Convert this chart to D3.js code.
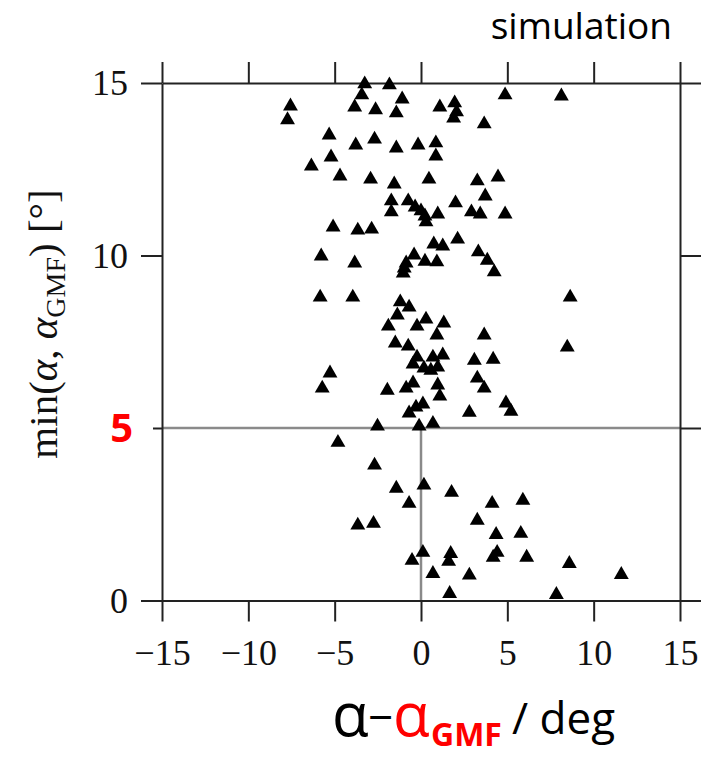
<!DOCTYPE html>
<html>
<head>
<meta charset="utf-8">
<script src="https://cdn.jsdelivr.net/npm/d3@7"></script>
<style>
  html, body { margin: 0; padding: 0; background: #fff; }
  svg { display: block; }
</style>
</head>
<body>
<svg id="chart" width="713" height="757"></svg>
<script>
// ---- data ----
const xValues = [
  -3.26, -1.83, -3.43, -1.09, -7.56, -7.73, -3.84, -2.63, -1.43, 1.09,
  1.95, 2.06, 1.89, 4.87, 8.13, 3.66, -5.32, -3.78, -2.69, -1.43,
  -0.17, 0.86, 0.86, -6.35, -5.21, -4.69, -2.92, -1.55, 0.46, 3.26,
  4.46, 3.72, -1.72, -1.72, -0.74, -0.34, 0.0, 0.23, 0.29, 0.97,
  2.0, 2.92, 3.43, 4.87, -5.09, -3.66, -2.86, 2.12, 0.74, 1.26,
  3.32, 3.84, 4.24, -5.78, -3.84, -0.40, 0.23, 0.92, -0.86, -0.97,
  -1.03, -5.84, -3.95, 8.64, 8.47, -1.20, -0.69, -1.37, -1.89, -0.23,
  0.29, 1.32, 0.92, 3.66, -1.49, -0.74, -0.23, -0.46, 0.17, 0.69,
  1.26, 0.97, 0.57, 3.09, 4.18, 3.26, 3.66, -5.27, -5.72, -1.95,
  -0.86, -0.46, 0.97, 1.09, -0.29, 0.11, -0.69, 2.80, 4.92, 5.21,
  -2.52, -0.11, 0.69, -4.81, -2.69, -1.43, 0.17, 1.77, -0.69, 4.12,
  5.90, 3.26, -3.66, -2.75, 4.35, 5.78, 0.11, -0.52, 1.72, 1.60,
  4.41, 4.18, 6.12, 0.69, 2.80, 8.59, 11.6, 1.66, 7.84
];
const yValues = [
  14.97, 14.94, 14.65, 14.53, 14.33, 13.93, 14.30, 14.22, 14.13, 14.30,
  14.42, 14.16, 13.98, 14.65, 14.62, 13.81, 13.49, 13.20, 13.37, 13.11,
  13.20, 13.26, 12.88, 12.59, 12.85, 12.30, 12.21, 12.07, 12.21, 12.16,
  12.27, 11.72, 11.58, 11.26, 11.58, 11.40, 11.29, 11.14, 10.97, 11.20,
  11.52, 11.26, 11.20, 11.20, 10.82, 10.73, 10.76, 10.47, 10.33, 10.27,
  10.10, 9.86, 9.52, 9.98, 9.78, 10.01, 9.83, 9.81, 9.78, 9.63,
  9.49, 8.79, 8.79, 8.79, 7.34, 8.65, 8.50, 8.27, 7.95, 7.95,
  8.15, 8.04, 7.69, 7.69, 7.46, 7.37, 7.05, 6.85, 6.73, 7.05,
  7.11, 6.76, 6.67, 6.96, 6.99, 6.44, 6.15, 6.59, 6.15, 6.09,
  6.15, 6.30, 6.24, 5.92, 5.60, 5.69, 5.43, 5.45, 5.72, 5.48,
  5.05, 5.05, 5.13, 4.58, 3.92, 3.25, 3.34, 3.13, 2.81, 2.81,
  2.90, 2.32, 2.18, 2.23, 1.91, 1.94, 1.39, 1.16, 1.36, 1.13,
  1.39, 1.25, 1.25, 0.78, 0.73, 1.07, 0.75, 0.20, 0.17
];
const xTicks = [-15, -10, -5, 0, 5, 10, 15];
const yTicks = [0, 5, 10, 15];
const yTickLabels = ["0", "", "10", "15"];   // the 5 is drawn separately in red
const thresholdY = 5;
const thresholdX = 0;
const titleText = "simulation";

// ---- layout ----
const svg = d3.select("#chart");
const mLeft = 162, mRight = 680, mTop = 83, mBottom = 600.5;
const x = d3.scaleLinear().domain([-15, 15]).range([mLeft, mRight]);
const y = d3.scaleLinear().domain([0, 15]).range([mBottom, mTop]);

const serif = "'Liberation Serif', 'DejaVu Serif', serif";
const sans = "'Open Sans', 'Noto Sans', sans-serif";
const frameColor = "#222";

// reference lines (gray)
svg.append("line")
  .attr("x1", x(-15)).attr("x2", x(15))
  .attr("y1", y(thresholdY)).attr("y2", y(thresholdY))
  .attr("stroke", "#8a8a8a").attr("stroke-width", 2.5);
svg.append("line")
  .attr("x1", x(thresholdX)).attr("x2", x(thresholdX))
  .attr("y1", y(thresholdY)).attr("y2", y(0))
  .attr("stroke", "#8a8a8a").attr("stroke-width", 2.5);

// axes
function styleAxis(g) {
  g.selectAll(".domain").attr("stroke", frameColor).attr("stroke-width", 2);
  g.selectAll(".tick line").attr("stroke", frameColor).attr("stroke-width", 2);
  g.selectAll(".tick text").attr("fill", "#111")
    .style("font-family", serif).style("font-size", "36px");
}
const gBottom = svg.append("g").attr("transform", `translate(0,${mBottom})`)
  .call(d3.axisBottom(x).tickValues(xTicks).tickSize(21).tickSizeOuter(0).tickPadding(18)
    .tickFormat(d => d < 0 ? "\u2212" + Math.abs(d) : String(d)));
styleAxis(gBottom);
gBottom.selectAll(".tick text").attr("dy", "0.71em");

const gTop = svg.append("g").attr("transform", `translate(0,${mTop})`)
  .call(d3.axisTop(x).tickValues(xTicks).tickSize(21).tickSizeOuter(0).tickFormat(""));
styleAxis(gTop);

const gLeft = svg.append("g").attr("transform", `translate(${mLeft},0)`)
  .call(d3.axisLeft(y).tickValues(yTicks).tickSize(21).tickSizeOuter(0).tickPadding(13)
    .tickFormat((d, i) => yTickLabels[i]));
styleAxis(gLeft);
gLeft.selectAll(".tick").filter(d => d === thresholdY).select("line").attr("x2", -9);

const gRight = svg.append("g").attr("transform", `translate(${mRight},0)`)
  .call(d3.axisRight(y).tickValues(yTicks).tickSize(21).tickSizeOuter(0).tickFormat(""));
styleAxis(gRight);

// red "5" label
svg.append("text")
  .attr("x", 133).attr("y", y(thresholdY))
  .attr("dy", "0.35em").attr("text-anchor", "end")
  .attr("fill", "#ff0000")
  .style("font-family", sans).style("font-weight", "bold").style("font-size", "40px")
  .text("5");

// points
const pts = xValues.map((v, i) => ({ x: v, y: yValues[i] }));
const tri = d3.symbol().type(d3.symbolTriangle).size(96);
svg.append("g").selectAll("path").data(pts).join("path")
  .attr("d", tri)
  .attr("transform", d => `translate(${x(d.x)},${y(d.y)})`)
  .attr("fill", "#000");

// title
svg.append("text")
  .attr("x", 672).attr("y", 39).attr("text-anchor", "end")
  .attr("fill", "#000")
  .style("font-family", sans).style("font-size", "37px")
  .text(titleText);

// y axis label (rotated)
const yl = svg.append("text")
  .attr("transform", "translate(57,324) rotate(-90)")
  .attr("text-anchor", "middle")
  .attr("fill", "#111")
  .style("font-family", serif).style("font-size", "41px");
yl.append("tspan").text("min(");
yl.append("tspan").style("font-style", "italic").text("\u03b1");
yl.append("tspan").text(", ");
yl.append("tspan").style("font-style", "italic").text("\u03b1");
yl.append("tspan").attr("dy", 8).style("font-size", "28px").text("GMF");
yl.append("tspan").attr("dy", -8).text(") [\u00b0]");

// x axis label, drawn as separate pieces
const xlab = svg.append("g").style("font-family", sans);
xlab.append("text").attr("x", 332).attr("y", 736).style("font-size", "60px")
  .attr("fill", "#000").text("\u03b1");
xlab.append("text").attr("x", 368).attr("y", 733).style("font-size", "44px")
  .attr("fill", "#000").text("\u2212");
xlab.append("text").attr("x", 393).attr("y", 736).style("font-size", "60px")
  .attr("fill", "#ff0000").text("\u03b1");
xlab.append("text").attr("x", 431).attr("y", 746).style("font-size", "32px")
  .style("font-weight", "bold").attr("fill", "#ff0000").text("GMF");
xlab.append("text").attr("x", 512).attr("y", 734).style("font-size", "44px")
  .attr("fill", "#000").text("/ deg");
</script>
</body>
</html>
